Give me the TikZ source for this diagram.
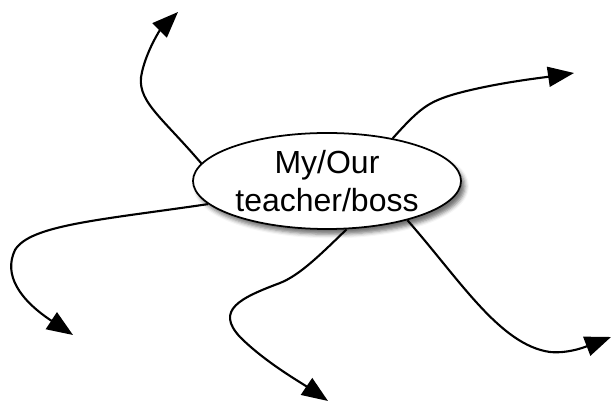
\documentclass[tikz,border=0pt]{standalone}
\usepackage{fontspec}
\setmainfont{Liberation Sans}
\usepackage{tikz}
\usetikzlibrary{shapes.geometric}
\usetikzlibrary{shadows.blur}
\usetikzlibrary{arrows.meta}

\begin{document}
\begin{tikzpicture}[x=0.03cm, y=-0.03cm,
    spoke/.style={line width=1.8pt, -{Triangle[length=7.8mm, width=6mm]}},
    hub/.style={ellipse, draw, line width=1.5pt, fill=white, inner sep=0pt,
        minimum width=8.04cm, minimum height=2.88cm, align=center,
        font=\fontsize{27.3}{32}\selectfont,
        blur shadow={shadow xshift=0.12cm, shadow yshift=-0.16cm, shadow blur radius=0.12cm, shadow opacity=55}}]
                \useasboundingbox (0,0) rectangle (614,403);

                % Centre
                \node[hub] (boss) at (327,181) {My/Our\\teacher/boss};

                % End points
                \coordinate (upleft) at (178,12);
                \coordinate (upright) at (574,73);
                \coordinate (downleft) at (73,335);
                \coordinate (down) at (328,401);
                \coordinate (downright) at (611,337);

                % Spokes
                \draw[spoke] (boss.172) .. controls (160,115) and (135,100) .. (142,72)
                    .. controls (147,50) and (160,30) .. (upleft);
                \draw[spoke] (boss.33) .. controls (420,108) and (428,102) .. (455,94)
                    .. controls (495,83) and (540,78) .. (upright);
                \draw[spoke] (boss.191.6) .. controls (100,220) and (30,225) .. (15,250)
                    .. controls (3,275) and (20,300) .. (downleft);
                \draw[spoke] (boss.292) .. controls (320,255) and (300,275) .. (280,283)
                    .. controls (240,298) and (215,310) .. (240,337)
                    .. controls (265,362) and (300,382) .. (down);
                \draw[spoke] (boss.334) .. controls (460,280) and (500,345) .. (550,352)
                    .. controls (570,354) and (590,345) .. (downright);
\end{tikzpicture}
\end{document}
